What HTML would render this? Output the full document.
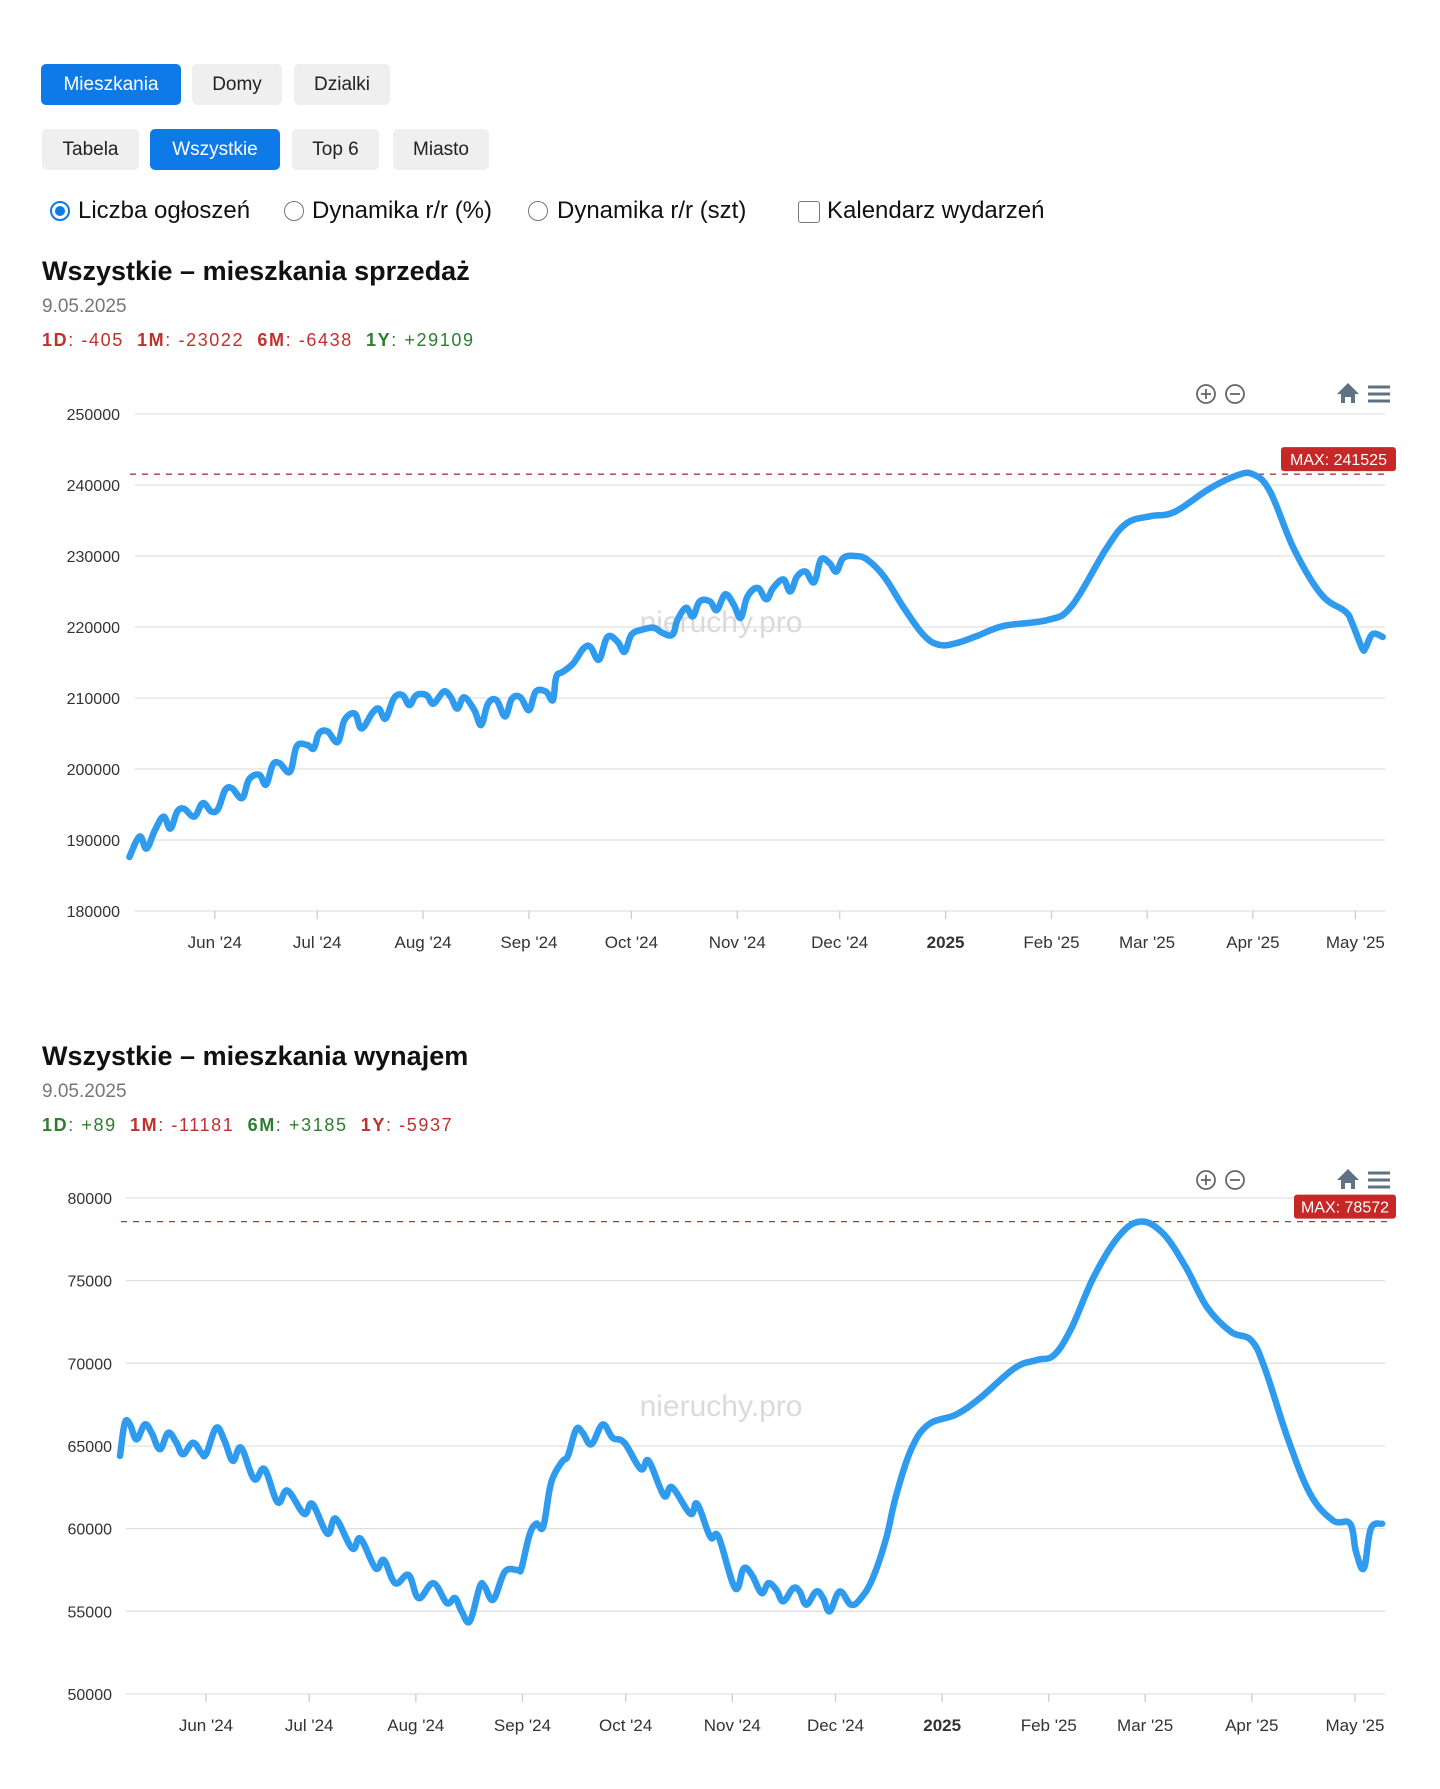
<!DOCTYPE html>
<html><head><meta charset="utf-8">
<style>
body{margin:0;width:1440px;height:1789px;background:#fff;font-family:"Liberation Sans",sans-serif;position:relative;overflow:hidden}
.btn{position:absolute;height:41px;line-height:41px;text-align:center;border-radius:5px;background:#efefef;color:#222;font-size:19px}
.btn.on{background:#0d7ae8;color:#fff}
.opt{position:absolute;top:197px;font-size:24px;color:#111;line-height:28px}
.rad{position:absolute;width:20px;height:20px;border:1.5px solid #777;border-radius:50%;top:201px;box-sizing:border-box}
.title{position:absolute;left:42px;font-size:27px;font-weight:bold;color:#111}
.date{position:absolute;left:42px;font-size:19px;color:#777}
.stats{position:absolute;left:42px;font-size:18px;letter-spacing:1.6px}
.r{color:#c0302c}.g{color:#2e7d32}
svg{position:absolute;left:0;top:0}
</style></head><body>
<div class="btn on" style="left:41px;top:64px;width:140px">Mieszkania</div>
<div class="btn" style="left:192px;top:64px;width:90px">Domy</div>
<div class="btn" style="left:294px;top:64px;width:96px">Dzialki</div>
<div class="btn" style="left:42px;top:129px;width:97px">Tabela</div>
<div class="btn on" style="left:150px;top:129px;width:130px">Wszystkie</div>
<div class="btn" style="left:292px;top:129px;width:87px">Top 6</div>
<div class="btn" style="left:393px;top:129px;width:96px">Miasto</div>

<div class="rad" style="left:50px;border:2px solid #0d7ae8"><div style="position:absolute;left:3px;top:3px;width:10px;height:10px;border-radius:50%;background:#0d7ae8"></div></div>
<div class="opt" style="left:78px">Liczba ogłoszeń</div>
<div class="rad" style="left:284px"></div>
<div class="opt" style="left:312px">Dynamika r/r (%)</div>
<div class="rad" style="left:528px"></div>
<div class="opt" style="left:557px">Dynamika r/r (szt)</div>
<div class="rad" style="left:798px;border-radius:3px;width:22px;height:22px"></div>
<div class="opt" style="left:827px">Kalendarz wydarzeń</div>

<div class="title" style="top:256px">Wszystkie – mieszkania sprzedaż</div>
<div class="date" style="top:296px">9.05.2025</div>
<div class="stats" style="top:330px"><b class="r">1D</b><span class="r">: -405</span>&nbsp; <b class="r">1M</b><span class="r">: -23022</span>&nbsp; <b class="r">6M</b><span class="r">: -6438</span>&nbsp; <b class="g">1Y</b><span class="g">: +29109</span></div>

<div class="title" style="top:1041px">Wszystkie – mieszkania wynajem</div>
<div class="date" style="top:1081px">9.05.2025</div>
<div class="stats" style="top:1115px"><b class="g">1D</b><span class="g">: +89</span>&nbsp; <b class="r">1M</b><span class="r">: -11181</span>&nbsp; <b class="g">6M</b><span class="g">: +3185</span>&nbsp; <b class="r">1Y</b><span class="r">: -5937</span></div>

<svg id="svg" width="1440" height="1789"></svg>
<script>
const monthLabels=["Jun '24","Jul '24","Aug '24","Sep '24","Oct '24","Nov '24","Dec '24","2025","Feb '25","Mar '25","Apr '25","May '25"];
const monthDays=[25,55,86,117,147,178,208,239,270,298,329,359];
const yTicks1=[180000,190000,200000,210000,220000,230000,240000,250000];
const yTicks2=[50000,55000,60000,65000,70000,75000,80000];
const days1=[0,3,5,7.5,10,12,14,16,19,21.5,24,26,28,30,33,35,38,40,42,44,47,49,52,54,55.5,58,61,63,66,68,71,73,75,77.5,80,82,84,87,89,92,94,96,98,101,103,105,107.5,110,112,114.5,117,119,122,124,125,127,130,133,135,137.5,140,143,145,147,150,153.5,156,159,160.5,163,165,167,170,172,174.5,177,179,181,184,186.5,188.5,191.5,193.5,195.5,198,200.5,202.5,205,207,209,212.5,216,221,226.5,232.5,237,242,248,256,269,276,286,292,299,306,316,324,329,334,341,349,356,358,361,362,364,367];
const vals1=[187600,190500,188800,191400,193300,191600,194000,194400,193300,195200,194000,194400,197000,197300,195900,198500,199200,197800,200600,200800,199600,203200,203400,202900,205000,205300,203800,206900,207800,205700,207800,208500,207100,210000,210400,209000,210400,210400,209200,210900,210200,208500,210100,208300,206200,209200,209700,207400,209900,210100,208300,210900,210900,209700,213000,213700,214900,217000,217200,215400,218600,217900,216500,218900,219600,219900,219200,218900,221000,222700,221500,223600,223600,222400,224600,223100,221300,224300,225500,223900,225500,226700,225000,227100,227800,226300,229500,229000,227800,229700,230000,229500,227100,222900,218900,217500,217700,218700,220150,221000,223000,231000,234600,235600,236200,239400,241300,241525,239100,231000,224600,222200,220600,217000,217100,219000,218600];
const days2=[0,1.4,2.9,4.8,7.2,9.2,11.6,14,16.4,18.3,21.2,23.6,25,28,30.4,32.8,35.2,39,42,45.8,48.7,53.5,55.9,60.3,62.7,67.5,69.9,74.3,76.7,80,83.9,86.8,91.1,95,97.4,99.3,101.7,104.6,106,108.5,111.9,115.7,116.7,119,121,123,124.9,126.3,128.7,130.2,132.6,134.5,137,140.3,143.2,146.6,151.4,153.7,158.1,160.5,165.8,167.8,171.6,174,178.8,181.3,183.7,186.5,188.5,190.8,192.8,195.7,197.6,199.5,202.4,204.4,206.3,209.2,212.5,215.4,218.8,222.7,225.6,230,235,243,250,260,266.5,271.5,276.5,283,290,296.4,303,309.6,316,323,328.8,332.8,339.4,346,352.6,357.6,359.3,361.6,363.6,366.9];
const vals2=[64400,66400,66300,65400,66300,65800,64800,65800,65200,64500,65200,64600,64500,66100,65300,64100,64900,63000,63600,61600,62300,60900,61500,59700,60600,58800,59400,57600,58100,56700,57200,55800,56700,55500,55800,55000,54400,56500,56500,55700,57400,57500,57600,59600,60300,60100,62400,63300,64100,64400,66000,65800,65100,66300,65500,65200,63600,64100,62000,62500,60900,61500,59500,59500,56400,57600,57200,56100,56700,56300,55600,56400,56200,55400,56200,55800,55000,56200,55400,55800,57000,59400,62000,64800,66300,66900,67900,69700,70200,70500,72100,75200,77600,78572,77900,75900,73400,71900,71400,69700,65500,62100,60500,60300,58600,57600,60000,60300];
const maxLabel1="MAX: 241525", maxLabel2="MAX: 78572";

const NS="http://www.w3.org/2000/svg";
const svg=document.getElementById('svg');
function mk(tag,attrs,parent){const e=document.createElementNS(NS,tag);for(const k in attrs)e.setAttribute(k,attrs[k]);(parent||svg).appendChild(e);return e;}

function smoothPath(pts){
  let d='M'+pts[0][0].toFixed(1)+','+pts[0][1].toFixed(1);
  for(let i=0;i<pts.length-1;i++){
    const p0=pts[Math.max(0,i-1)],p1=pts[i],p2=pts[i+1],p3=pts[Math.min(pts.length-1,i+2)];
    const t=0.18;
    const c1x=p1[0]+(p2[0]-p0[0])*t,c1y=p1[1]+(p2[1]-p0[1])*t;
    const c2x=p2[0]-(p3[0]-p1[0])*t,c2y=p2[1]-(p3[1]-p1[1])*t;
    d+='C'+c1x.toFixed(1)+','+c1y.toFixed(1)+' '+c2x.toFixed(1)+','+c2y.toFixed(1)+' '+p2[0].toFixed(1)+','+p2[1].toFixed(1);
  }
  return d;
}

function drawChart(o){
  const g=mk('g',{});
  
  
  const ymin=o.yTicks[0],ymax=o.yTicks[o.yTicks.length-1];
  const ys=v=>o.yBot-(v-ymin)/(ymax-ymin)*(o.yBot-o.yTop);
  const xs=d=>o.x0+d*o.pxDay;
  o.yTicks.forEach(t=>{
    const l=mk('line',{x1:o.gridL,x2:1385,y1:ys(t),y2:ys(t),stroke:'#e0e0e0','stroke-width':1.3},g);
    
    
    const tx=mk('text',{x:o.labelR,y:ys(t)+6,'text-anchor':'end','font-size':16,fill:'#333','font-family':'Liberation Sans, sans-serif'},g);
    tx.textContent=t;
    
    
  });
  monthDays.forEach((d,i)=>{
    const x=xs(d);
    const tk=mk('line',{x1:x,x2:x,y1:o.yBot,y2:o.yBot+8,stroke:'#ccc','stroke-width':1.3},g);
    
    
    const tx=mk('text',{x:x,y:o.yBot+37,'text-anchor':'middle','font-size':17,fill:'#333','font-weight':i==7?'bold':'normal','font-family':'Liberation Sans, sans-serif'},g);
    tx.textContent=monthLabels[i];
    
    
  });
  const wm=mk('text',{x:721,y:o.wmY,'text-anchor':'middle','font-size':30,fill:'#dadada','font-family':'Liberation Sans, sans-serif'},g);
  wm.textContent='nieruchy.pro';
  
  
  const mx=Math.max(...o.vals);
  const ml=mk('line',{x1:o.gridL-5,x2:1390,y1:ys(mx),y2:ys(mx),stroke:'#b03a3a','stroke-width':1.3,'stroke-dasharray':'6,6'},g);
  
  
  const pts=o.days.map((dd,i)=>[xs(dd),ys(o.vals[i])]);
  const p=mk('path',{d:smoothPath(pts),fill:'none',stroke:'#2e9bee','stroke-width':6.5,'stroke-linejoin':'round','stroke-linecap':'round'},g);
  
  
  const bx=mk('rect',{x:o.maxX,y:ys(mx)-27,width:1396-o.maxX,height:24,rx:3,fill:'#c62828'},g);
  
  
  const bt=mk('text',{x:(o.maxX+1396)/2,y:ys(mx)-9,'text-anchor':'middle','font-size':16,fill:'#fff','font-family':'Liberation Sans, sans-serif'},g);
  bt.textContent=o.maxLabel;
  
  
  const iy=o.iconY;
  [[1206,'+'],[1235,'-']].forEach(([cx,s])=>{
    const c=mk('circle',{cx:cx,cy:iy,r:9,fill:'none',stroke:'#666','stroke-width':1.8},g);
    
    
    mk('line',{x1:cx-5,x2:cx+5,y1:iy,y2:iy,stroke:'#666','stroke-width':1.8},g);
    if(s=='+')mk('line',{x1:cx,x2:cx,y1:iy-5,y2:iy+5,stroke:'#666','stroke-width':1.8},g);
  });
  const h=mk('path',{d:`M1337 ${iy} L1348 ${iy-11} L1359 ${iy} L1355 ${iy} L1355 ${iy+9} L1351 ${iy+9} L1351 ${iy+3} L1345 ${iy+3} L1345 ${iy+9} L1341 ${iy+9} L1341 ${iy} Z`,fill:'#5f7283'},g);
  
  
  [-7,0,7].forEach(dy=>{mk('rect',{x:1368,y:iy+dy-1.5,width:22,height:3,fill:'#5f7283'},g);});
}
drawChart({name:'sales-chart',days:days1,vals:vals1,yTicks:yTicks1,yTop:414,yBot:911,x0:129.4,pxDay:3.415,gridL:135,labelR:120,wmY:632,maxX:1281,maxLabel:maxLabel1,iconY:394});
drawChart({name:'rent-chart',days:days2,vals:vals2,yTicks:yTicks2,yTop:1198,yBot:1694,x0:120,pxDay:3.44,gridL:126,labelR:112,wmY:1416,maxX:1294,maxLabel:maxLabel2,iconY:1180});
</script>
</body></html>
